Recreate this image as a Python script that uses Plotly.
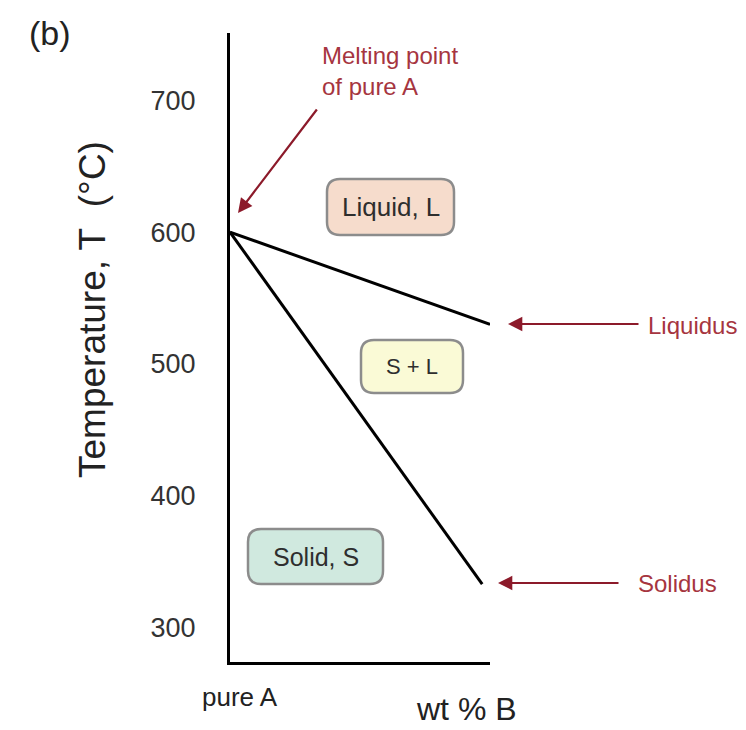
import plotly.graph_objects as go

# ---- data ----
comp_liquidus = [0, 100]        # wt % B
temp_liquidus = [600, 530]      # °C
comp_solidus = [0, 97]
temp_solidus = [600, 333]
y_ticks = [300, 400, 500, 600, 700]
y_tick_labels = ["300", "400", "500", "600", "700"]
phase_labels = ["Liquid, L", "S + L", "Solid, S"]
phase_fills = ["#f6dccc", "#fafad6", "#d0e9df"]

# ---- layout geometry (pixels) ----
W, H = 746, 730
L, R, T, B = 230, 256, 33, 68
PW, PH = W - L - R, H - T - B

def pp(x, y):
    return (x - L) / PW, (H - B - y) / PH

def rounded_rect(x0, y0, x1, y1, r):
    def P(x, y):
        a, b = pp(x, y)
        return f"{a:.5f},{b:.5f}"
    return (f"M {P(x0 + r, y0)} L {P(x1 - r, y0)} Q {P(x1, y0)} {P(x1, y0 + r)} "
            f"L {P(x1, y1 - r)} Q {P(x1, y1)} {P(x1 - r, y1)} "
            f"L {P(x0 + r, y1)} Q {P(x0, y1)} {P(x0, y1 - r)} "
            f"L {P(x0, y0 + r)} Q {P(x0, y0)} {P(x0 + r, y0)} Z")

fig = go.Figure()
fig.add_trace(go.Scatter(x=comp_liquidus, y=temp_liquidus, mode="lines",
                         line=dict(color="black", width=3), showlegend=False,
                         hoverinfo="skip"))
fig.add_trace(go.Scatter(x=comp_solidus, y=temp_solidus, mode="lines",
                         line=dict(color="black", width=3), showlegend=False,
                         hoverinfo="skip"))

boxes = [(327, 179, 454, 235), (361, 340, 463, 393), (248, 529, 383, 584)]
label_sizes = [26, 22, 25]
shapes = []
annotations = []
for (x0, y0, x1, y1), lab, fill, fs in zip(boxes, phase_labels, phase_fills, label_sizes):
    shapes.append(dict(type="path", xref="paper", yref="paper",
                       path=rounded_rect(x0, y0, x1, y1, 13),
                       fillcolor=fill, line=dict(color="#8c8c8c", width=2.5),
                       layer="above"))
    cx, cy = pp((x0 + x1) / 2, (y0 + y1) / 2)
    annotations.append(dict(x=cx, y=cy, xref="paper", yref="paper", text=lab,
                            showarrow=False, xanchor="center", yanchor="middle",
                            font=dict(size=fs, color="#2e2e2e")))

red_txt = "#a63540"
red_arrow = "#8c1a2a"

for head, tail in [((238, 213), (318, 108)), ((508, 324), (640, 324)), ((498, 583), (620, 583))]:
    hx, hy = pp(*head)
    annotations.append(dict(x=hx, y=hy, xref="paper", yref="paper", text="",
                            showarrow=True, ax=tail[0] - head[0], ay=tail[1] - head[1],
                            arrowhead=2, arrowsize=1.3, arrowwidth=2.2,
                            arrowcolor=red_arrow))

def txt(x, y, s, size, color, xanchor="left", **kw):
    a, b = pp(x, y)
    annotations.append(dict(x=a, y=b, xref="paper", yref="paper", text=s,
                            showarrow=False, xanchor=xanchor, yanchor="middle",
                            font=dict(size=size, color=color), align="left", **kw))

txt(320, 71, "Melting point<br>of pure A", 24, red_txt)
txt(646, 325, "Liquidus", 24, red_txt)
txt(636, 583, "Solidus", 24, red_txt)
txt(27, 33, "(b)", 34, "#222")
txt(240, 697, "pure A", 26, "#222", xanchor="center")
txt(466, 709, "wt % B", 32, "#222", xanchor="center")
txt(92, 310, "Temperature, T\u00a0\u00a0(°C)", 37, "#222", xanchor="center", textangle=-90)

fig.update_layout(
    width=W, height=H,
    margin=dict(l=L, r=R, t=T, b=B, pad=0),
    paper_bgcolor="white", plot_bgcolor="white",
    font=dict(family="Arial, Liberation Sans, sans-serif"),
    shapes=shapes, annotations=annotations,
    xaxis=dict(range=[0, 100], showgrid=False, zeroline=False, showticklabels=False,
               ticks="", showline=True, linecolor="black", linewidth=3),
    yaxis=dict(range=[274, 751], showgrid=False, zeroline=False, tickvals=y_ticks,
               ticktext=y_tick_labels, ticks="", showline=True, linecolor="black",
               linewidth=3, ticklabelstandoff=26,
               tickfont=dict(size=27, color="#333")),
)

fig.write_html("out.html")
